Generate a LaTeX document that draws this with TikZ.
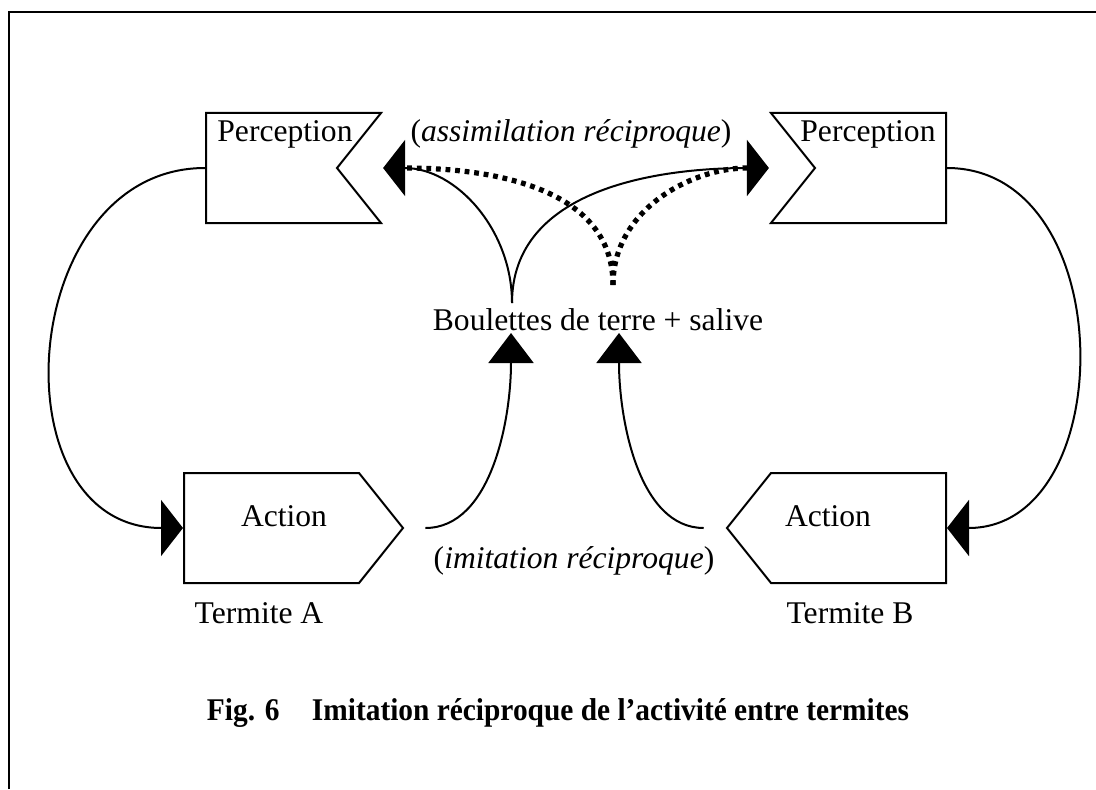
\documentclass[tikz,border=0pt]{standalone}
\usepackage{fontspec}
\setmainfont{Liberation Serif}
\usepackage{xcolor}
\usepackage{tikz}
\usetikzlibrary{shapes.symbols,arrows.meta,positioning}

\tikzset{
	shapebox/.style={signal, draw, line width=1pt, inner sep=0pt, minimum height=55pt, signal pointer angle=102.7},
	link/.style={line width=1pt},
	dots/.style={line width=2.6pt, dash pattern=on 2.4pt off 2.4pt},
	bigtip/.tip={Triangle[length=11pt,width=28pt]},
	uptip/.tip={Triangle[length=15pt,width=22.5pt]},
}

\begin{document}
\begin{tikzpicture}[x=0.5pt,y=0.5pt,font=\fontsize{15.8}{19}\selectfont]
		\useasboundingbox (0,0) rectangle (1096,789);
		\draw[line width=0.9pt] (9,0) -- (9,777) -- (1096,777);

		\node (percA) [shapebox, minimum width=87.5pt, signal to=nowhere, signal from=east, anchor=west] at (205,621) {};
		\node (percB) [shapebox, minimum width=87.5pt, signal to=nowhere, signal from=west, anchor=east] at (947,621) {};
		\node (actA) [shapebox, minimum width=109.5pt, signal to=east, anchor=west] at (183,261) {};
		\node (actB) [shapebox, minimum width=109.5pt, signal to=west, anchor=east] at (947,261) {};

		\node (tPercA) [anchor=base west, inner sep=0pt] at (217,647) {Perception};
		\node (tPercB) [anchor=base west, inner sep=0pt] at (800,647) {Perception};
		\node (tActA) [anchor=base] at (284,263) {Action};
		\node (tActB) [anchor=base] at (828,263) {Action};
		\node (termA) [anchor=base] at (259,166) {Termite A};
		\node (termB) [anchor=base] at (850,166) {Termite B};
		\node (assim) [anchor=base] at (571,647) {(\textit{assimilation réciproque})};
		\node (boul) [anchor=base] at (598,459) {Boulettes de terre + salive};
		\node (imit) [anchor=base] at (574,221) {(\textit{imitation réciproque})};
		\node (fig) [anchor=base] at (558,69) {\scalebox{0.93}[1]{\textbf{Fig. 6\hspace{1.1em}Imitation réciproque de l’activité entre termites}}};

		\coordinate (jSolid) at (512,486);
		\coordinate (jDot) at (613,504);
		\coordinate (inA) at (511,456);
		\coordinate (inB) at (619,456);
		\coordinate (tipA) at (percA.north east |- percA.west);
		\coordinate (tipB) at (percB.north west |- percB.east);

		\draw[link,-{bigtip}] (percA.west) to[out=180,in=180,looseness=1.34] (actA.west);
		\draw[link,-{bigtip}] (percB.east) to[out=0,in=0,looseness=1.24] (actB.east);
		\draw[link,-{uptip},shorten <=10.5pt] (actA.east) to[out=0,in=-90] (inA);
		\draw[link,-{uptip},shorten <=11pt] (actB.west) to[out=180,in=-90] (inB);
		\draw[link,-{bigtip}] (jSolid) to[out=90,in=0] (tipA);
		\draw[link,-{bigtip}] (jSolid) to[out=90,in=180] (tipB);
		\draw[dots,shorten >=11pt] (jDot) to[out=90,in=0] (tipA);
		\draw[dots,shorten >=11pt] (jDot) to[out=90,in=180] (tipB);
\end{tikzpicture}
\end{document}
